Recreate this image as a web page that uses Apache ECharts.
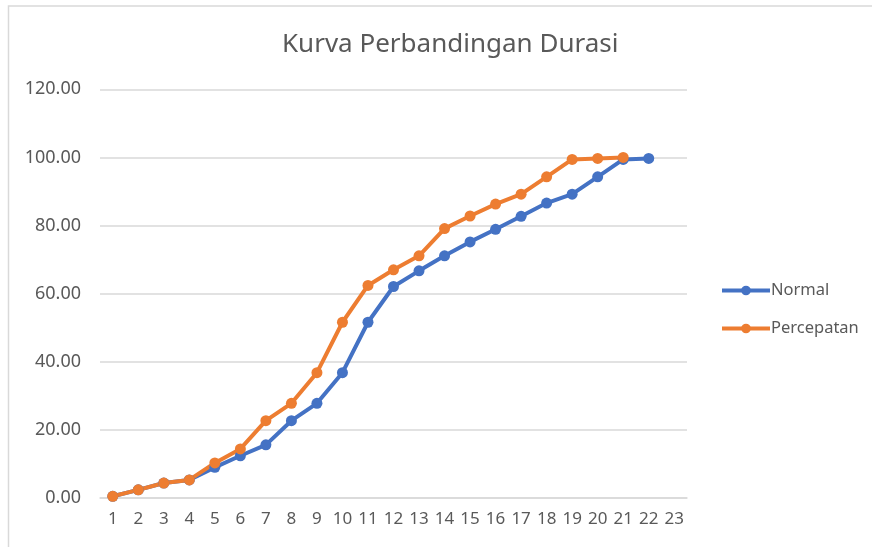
<!DOCTYPE html>
<html>
<head>
<meta charset="utf-8">
<script src="https://cdn.jsdelivr.net/npm/echarts@6/dist/echarts.min.js"></script>
<style>
  html, body { margin: 0; padding: 0; background: #fff; }
  #chart { width: 872px; height: 547px; }
</style>
</head>
<body>
<div id="chart"></div>
<script>
// data
const days = ['1','2','3','4','5','6','7','8','9','10','11','12','13','14','15','16','17','18','19','20','21','22','23']
const normal = [0.5, 2.4, 4.4, 5.3, 9.0, 12.4, 15.6, 22.7, 27.8, 36.8, 51.6, 62.1, 66.7, 71.1, 75.2, 78.9, 82.7, 86.6, 89.2, 94.3, 99.4, 99.7, null]
const percepatan = [0.5, 2.4, 4.4, 5.3, 10.3, 14.4, 22.7, 27.8, 36.8, 51.6, 62.4, 67.0, 71.1, 79.1, 82.8, 86.3, 89.2, 94.3, 99.4, 99.7, 100.0, null, null]

const textColor = '#595959'
const font = 'Noto Sans'

const chart = echarts.init(document.getElementById('chart'))
chart.setOption({
  animation: false,
  backgroundColor: '#fff',
  title: {
    text: 'Kurva Perbandingan Durasi',
    left: 277,
    top: 27,
    textStyle: { fontFamily: font, fontSize: 26, fontWeight: 'normal', color: textColor }
  },
  graphic: [
    {
      type: 'rect',
      shape: { x: 8.5, y: 6, width: 900, height: 600 },
      style: { fill: 'none', stroke: '#d9d9d9', lineWidth: 1.5 },
      silent: true
    }
  ],
  legend: {
    orient: 'vertical',
    left: 720,
    top: 282,
    padding: 0,
    itemWidth: 48,
    itemHeight: 12,
    itemGap: 21,
    lineStyle: { width: 4 },
    textStyle: { fontFamily: font, fontSize: 16.5, color: textColor, padding: [0, 0, 0, -4] },
    data: ['Normal', 'Percepatan']
  },
  grid: {
    left: 100,
    right: 185,
    top: 89.3,
    bottom: 49
  },
  xAxis: {
    type: 'category',
    data: days,
    boundaryGap: true,
    axisTick: { show: false },
    axisLine: { lineStyle: { color: '#d9d9d9', width: 1.5 } },
    axisLabel: { interval: 0, fontFamily: font, fontSize: 17, color: textColor, margin: 13 }
  },
  yAxis: {
    type: 'value',
    min: 0,
    max: 120,
    interval: 20,
    axisLine: { show: false },
    axisTick: { show: false },
    splitLine: { lineStyle: { color: '#d9d9d9', width: 1.5 } },
    axisLabel: {
      fontFamily: font,
      fontSize: 18,
      color: textColor,
      margin: 19,
      formatter: v => v.toFixed(2)
    }
  },
  series: [
    {
      name: 'Normal',
      type: 'line',
      data: normal,
      symbol: 'circle',
      symbolSize: 11,
      itemStyle: { color: '#4472C4' },
      lineStyle: { color: '#4472C4', width: 4 }
    },
    {
      name: 'Percepatan',
      type: 'line',
      data: percepatan,
      symbol: 'circle',
      symbolSize: 11,
      itemStyle: { color: '#ED7D31' },
      lineStyle: { color: '#ED7D31', width: 4 }
    }
  ]
})
</script>
</body>
</html>
